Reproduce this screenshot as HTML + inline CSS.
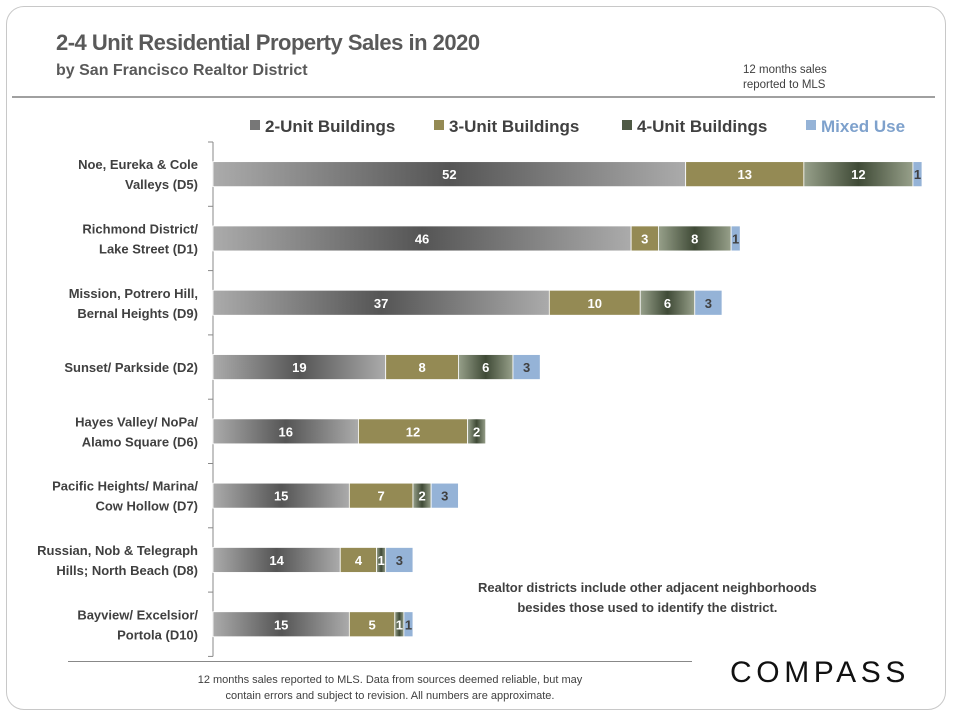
<!DOCTYPE html>
<html><head><meta charset="utf-8">
<style>
body{margin:0;width:954px;height:718px;background:#fff;font-family:"Liberation Sans",sans-serif;overflow:hidden}
.frame{position:absolute;left:6px;top:6px;width:940px;height:704px;border:1.5px solid #c8c8c8;border-radius:18px;box-sizing:border-box}
.t{position:absolute;white-space:nowrap}
</style></head><body>
<div class="frame"></div>
<div class="t" style="left:56px;top:30px;font-size:22px;font-weight:bold;color:#595959;letter-spacing:-0.5px">2-4 Unit Residential Property Sales in 2020</div>
<div class="t" style="left:56px;top:62px;font-size:16px;font-weight:bold;color:#595959">by San Francisco Realtor District</div>
<div class="t" style="left:743px;top:63px;font-size:11.5px;color:#404040;line-height:15px">12 months sales<br>reported to MLS</div>
<div style="position:absolute;left:12px;top:96px;width:923px;height:2px;background:#a0a0a0"></div>
<svg id="chart" width="954" height="718" style="position:absolute;left:0;top:0">
<defs>
<linearGradient id="g2" x1="0" x2="1" y1="0" y2="0"><stop offset="0" stop-color="#ababab"/><stop offset="0.5" stop-color="#555"/><stop offset="1" stop-color="#ababab"/></linearGradient>
<linearGradient id="g4" x1="0" x2="1" y1="0" y2="0"><stop offset="0" stop-color="#97a08a"/><stop offset="0.5" stop-color="#3f4a36"/><stop offset="1" stop-color="#97a08a"/></linearGradient>
</defs>
</svg>
<div class="t" style="left:478px;top:578px;text-align:center;font-size:13px;font-weight:bold;color:#404040;line-height:20px">Realtor districts include other adjacent neighborhoods<br>besides those used to identify the district.</div>
<div style="position:absolute;left:68px;top:661px;width:624px;height:1px;background:#888"></div>
<div class="t" style="left:130px;top:672px;width:520px;text-align:center;font-size:11px;color:#404040;line-height:16px">12 months sales reported to MLS. Data from sources deemed reliable, but may<br>contain errors and subject to revision. All numbers are approximate.</div>
<div class="t" style="left:730px;top:656px;font-size:30px;letter-spacing:4.6px;color:#111">COMPASS</div>
<script>
const categories=[["Noe, Eureka & Cole","Valleys (D5)"],["Richmond District/","Lake Street (D1)"],["Mission, Potrero Hill,","Bernal Heights (D9)"],["Sunset/ Parkside (D2)"],["Hayes Valley/ NoPa/","Alamo Square (D6)"],["Pacific Heights/ Marina/","Cow Hollow (D7)"],["Russian, Nob & Telegraph","Hills; North Beach (D8)"],["Bayview/ Excelsior/","Portola (D10)"]];
const seriesNames=["2-Unit Buildings","3-Unit Buildings","4-Unit Buildings","Mixed Use"];
const unit2=[52,46,37,19,16,15,14,15];
const unit3=[13,3,10,8,12,7,4,5];
const unit4=[12,8,6,6,2,2,1,1];
const mixed=[1,1,3,3,0,3,3,1];
const series=[unit2,unit3,unit4,mixed];
const fills=["url(#g2)","#948a54","url(#g4)","#95b3d7"];
const legendColors=["#777","#948a54","#4f5a45","#95b3d7"];
const legendText=["#404040","#404040","#404040","#7ea1cc"];
const svg=document.getElementById('chart');
const NS='http://www.w3.org/2000/svg';
const x0=213,pxPerUnit=9.09,top0=142,rowH=64.3,barH=25;
const xs=v=>x0+v*pxPerUnit;
const ys=i=>top0+i*rowH+(rowH-barH)/2;
function mk(t,a){const e=document.createElementNS(NS,t);for(const k in a)e.setAttribute(k,a[k]);svg.appendChild(e);return e;}
let ax=mk('line',{x1:x0,x2:x0,y1:top0,y2:top0+rowH*categories.length,stroke:'#888','stroke-width':1});


for(let i=0;i<=categories.length;i++){const tk=mk('line',{x1:x0-5,x2:x0,y1:top0+i*rowH,y2:top0+i*rowH,stroke:'#888'});

}
categories.forEach((c,i)=>{
  const cy=top0+i*rowH+rowH/2;
  const tx=mk('text',{x:198,y:cy-(c.length-1)*10+5,'text-anchor':'end','font-size':13,'font-weight':'bold',fill:'#404040','font-family':'Liberation Sans, sans-serif'});
  
  
  c.forEach((l,j)=>{const ts=document.createElementNS(NS,'tspan');ts.setAttribute('x',198);if(j>0)ts.setAttribute('dy',20);ts.textContent=l;tx.appendChild(ts);});
  let acc=0;
  series.forEach((s,k)=>{
    const v=s[i];if(!v)return;
    const r=mk('rect',{x:xs(acc),y:ys(i),width:v*pxPerUnit,height:barH,fill:fills[k],stroke:'#fff','stroke-width':0.8});
    
    
    const lbl=mk('text',{x:xs(acc+v/2),y:ys(i)+barH/2+5,'text-anchor':'middle','font-size':13,'font-weight':'bold',fill:k==3?'#404040':'#fff','font-family':'Liberation Sans, sans-serif'});
    lbl.textContent=v;
    
    
    acc+=v;
  });
});
const lx=[250,434,622,806];
seriesNames.forEach((n,k)=>{
  const sq=mk('rect',{x:lx[k],y:120,width:10,height:10,fill:legendColors[k]});
  
  
  const t=mk('text',{x:lx[k]+15,y:132,'font-size':17,'font-weight':'bold',fill:legendText[k],'font-family':'Liberation Sans, sans-serif'});
  t.textContent=n;
  
  
});
</script>
</body></html>
